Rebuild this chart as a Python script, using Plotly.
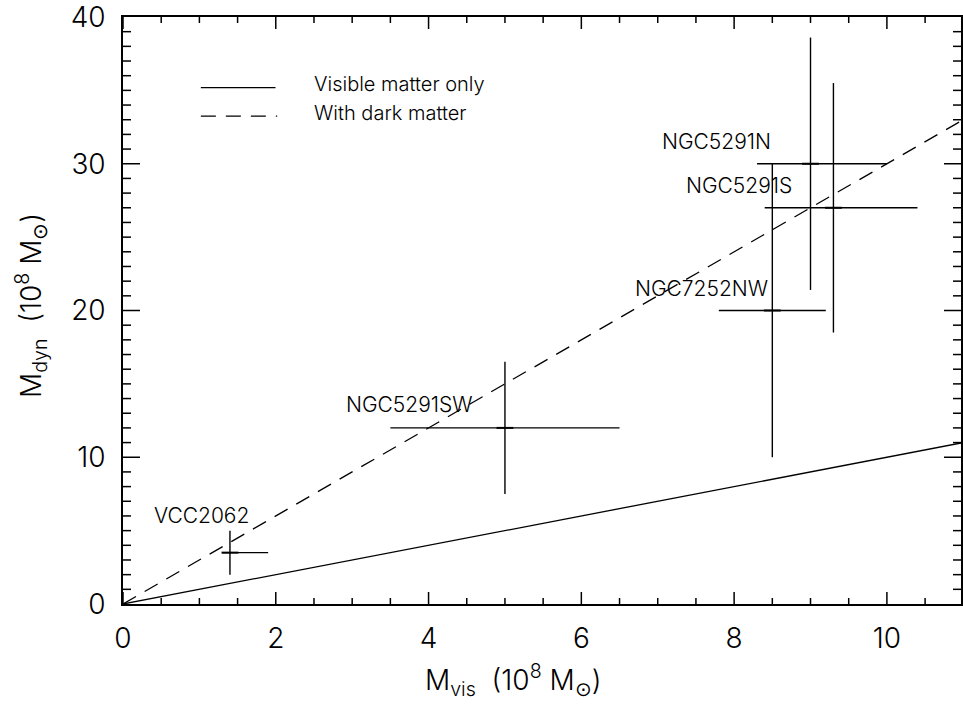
import plotly.graph_objects as go

# ---- data ----
names = ["VCC2062", "NGC5291SW", "NGC7252NW", "NGC5291N", "NGC5291S"]
m_vis = [1.4, 5.0, 8.5, 9.0, 9.3]
m_vis_err_plus = [0.5, 1.5, 0.7, 1.0, 1.1]
m_vis_err_minus = [0.1, 1.5, 0.7, 0.7, 0.9]
m_dyn = [3.5, 12.0, 20.0, 30.0, 27.0]
m_dyn_err = [1.5, 4.5, 10.0, 8.6, 8.5]

line_x = [0, 11]
visible_only_y = [0, 11]
dark_matter_y = [0, 33]

x_ticks = [0, 2, 4, 6, 8, 10]
y_ticks = [0, 10, 20, 30, 40]
x_minor_step = 0.5
y_minor_step = 1

# label pixel offsets (text centre relative to point)
label_dx = [-28, -95, -71, -94, -94]
label_dy = [37, 23, 22, 22, 22]

FONT = "Inter"
W = 300
DASH = "15px,10px"
X_MAX = 10.97

fig = go.Figure()

fig.add_trace(go.Scatter(x=line_x, y=visible_only_y, mode="lines",
                         line=dict(color="black", width=1.3), showlegend=False))
fig.add_trace(go.Scatter(x=line_x, y=dark_matter_y, mode="lines",
                         line=dict(color="black", width=1.3, dash=DASH), showlegend=False))

fig.add_trace(go.Scatter(
    x=m_vis, y=m_dyn, mode="markers",
    marker=dict(symbol="line-ew", size=12, line=dict(color="black", width=2)),
    error_x=dict(type="data", array=m_vis_err_plus, arrayminus=m_vis_err_minus,
                 symmetric=False, width=0, thickness=1.4, color="black"),
    error_y=dict(type="data", array=m_dyn_err, width=0, thickness=1.4, color="black"),
    showlegend=False,
))

for n, x, y, dx, dy in zip(names, m_vis, m_dyn, label_dx, label_dy):
    fig.add_annotation(x=x, y=y, text=n, showarrow=False, xshift=dx, yshift=dy,
                       xanchor="center", yanchor="middle",
                       font=dict(family=FONT, size=21, color="black", weight=W))

# ---- tick marks (inside, on all four sides), placed via the axis scales ----
TICK_LINE = dict(color="black", width=1.5)


def x_tick(v, length):
    for anchor, sign in ((0, 1), (1, -1)):
        fig.add_shape(type="line", xref="x", yref="paper", x0=v, x1=v,
                      ysizemode="pixel", yanchor=anchor, y0=0, y1=sign * length,
                      line=TICK_LINE, layer="above")


def y_tick(v, length):
    for anchor, sign in ((0, 1), (1, -1)):
        fig.add_shape(type="line", xref="paper", yref="y", y0=v, y1=v,
                      xsizemode="pixel", xanchor=anchor, x0=0, x1=sign * length,
                      line=TICK_LINE, layer="above")


for v in x_ticks:
    x_tick(v, 12)
k = 1
while k * x_minor_step < X_MAX:
    v = k * x_minor_step
    if all(abs(v - t) > 1e-9 for t in x_ticks):
        x_tick(v, 6)
    k += 1

for v in y_ticks[1:-1]:
    y_tick(v, 17)
k = 1
while k * y_minor_step < y_ticks[-1]:
    v = k * y_minor_step
    if all(abs(v - t) > 1e-9 for t in y_ticks):
        y_tick(v, 8)
    k += 1

# custom legend
fig.add_shape(type="line", xref="paper", yref="paper", x0=0.0929, x1=0.182,
              y0=0.8796, y1=0.8796, line=dict(color="black", width=1.3))
fig.add_shape(type="line", xref="paper", yref="paper", x0=0.0929, x1=0.184,
              y0=0.831, y1=0.831, line=dict(color="black", width=1.3, dash=DASH))
fig.add_annotation(xref="paper", yref="paper", x=0.226, y=0.886, text="Visible matter only",
                   showarrow=False, xanchor="left", yanchor="middle",
                   font=dict(family=FONT, size=20, color="black", weight=W))
fig.add_annotation(xref="paper", yref="paper", x=0.226, y=0.836, text="With dark matter",
                   showarrow=False, xanchor="left", yanchor="middle",
                   font=dict(family=FONT, size=20, color="black", weight=W))

# axis titles
fig.add_annotation(xref="paper", yref="paper", x=0.465, y=-0.13,
                   text="M<sub>vis</sub>  (10<sup>8</sup> M<sub>⊙</sub>)",
                   showarrow=False, xanchor="center", yanchor="middle",
                   font=dict(family=FONT, size=28, color="black", weight=W))
fig.add_annotation(xref="paper", yref="paper", x=-0.1095, y=0.508,
                   text="M<sub>dyn</sub>  (10<sup>8</sup> M<sub>⊙</sub>)", textangle=-90,
                   showarrow=False, xanchor="center", yanchor="middle",
                   font=dict(family=FONT, size=28, color="black", weight=W))

fig.update_xaxes(range=[0, X_MAX], tickvals=x_ticks, ticks="",
                 showline=True, linecolor="black", linewidth=1.5, mirror=True,
                 showgrid=False, zeroline=False,
                 ticklabelstandoff=9, ticklabeloverflow="allow",
                 tickfont=dict(family=FONT, size=28, color="black", weight=W))
fig.update_yaxes(range=[y_ticks[0], y_ticks[-1]], tickvals=y_ticks, ticks="",
                 showline=True, linecolor="black", linewidth=1.5, mirror=True,
                 showgrid=False, zeroline=False,
                 ticklabelstandoff=10, ticklabeloverflow="allow",
                 tickfont=dict(family=FONT, size=28, color="black", weight=W))

fig.update_layout(width=963, height=708,
                  plot_bgcolor="white", paper_bgcolor="white",
                  margin=dict(l=123, r=0, t=5, b=104), showlegend=False)

fig.write_html("out.html", post_script="document.body.style.margin='0';",
               config={"displayModeBar": False})
